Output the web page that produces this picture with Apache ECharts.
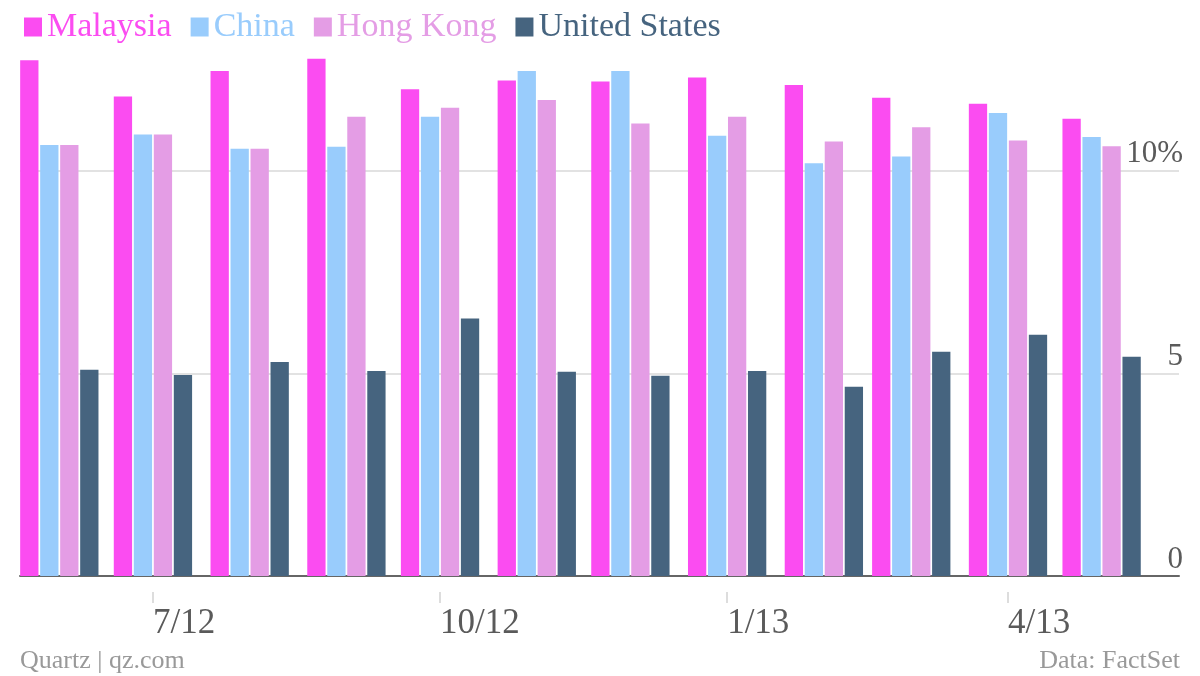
<!DOCTYPE html>
<html>
<head>
<meta charset="utf-8">
<script src="https://cdn.jsdelivr.net/npm/echarts@6/dist/echarts.min.js"></script>
<style>
  html, body { margin: 0; padding: 0; background: #fff; }
  #chart { width: 1200px; height: 676px; }
</style>
</head>
<body>
<div id="chart"></div>
<script>
// ---- data ----
var months = ['2012-06-01','2012-07-01','2012-08-01','2012-09-01','2012-10-01','2012-11-01',
              '2012-12-01','2013-01-01','2013-02-01','2013-03-01','2013-04-01','2013-05-01'];
var seriesNames = ['Malaysia', 'China', 'Hong Kong', 'United States'];
var malaysia = [12.72, 11.83, 12.46, 12.76, 12.01, 12.22, 12.20, 12.30, 12.11, 11.80, 11.65, 11.28];
var china    = [10.63, 10.89, 10.54, 10.59, 11.33, 12.46, 12.46, 10.86, 10.18, 10.35, 11.42, 10.83];
var hongKong = [10.63, 10.89, 10.54, 11.33, 11.55, 11.74, 11.16, 11.33, 10.72, 11.07, 10.74, 10.60];
var unitedStates = [5.09, 4.96, 5.28, 5.06, 6.35, 5.04, 4.94, 5.06, 4.67, 5.53, 5.95, 5.41];
var xTickDates  = ['2012-07-01', '2012-10-01', '2013-01-01', '2013-04-01'];
var xTickLabels = ['7/12', '10/12', '1/13', '4/13'];
var yTickValues = [0, 5, 10];
var yTickLabels = ['0', '5', '10%'];
var xRange = ['2012-05-19', '2013-05-26'];

// ---- styles ----
var colors = ['#fb4cf1', '#99ccfc', '#e49de5', '#46647f'];
var FONT = 'Liberation Serif';

// day number (days since epoch, UTC) for a date string
function dayNum(s) { return Date.parse(s + 'T00:00:00Z') / 86400000; }

var values = [malaysia, china, hongKong, unitedStates];
var tickDays = xTickDates.map(dayNum);
var xMin = dayNum(xRange[0]) + 0.4;
var xMax = dayNum(xRange[1]) - 0.2;

var chart = echarts.init(document.getElementById('chart'), null, { renderer: 'canvas' });

var series = seriesNames.map(function (name, k) {
  return {
    name: name,
    type: 'bar',
    xAxisIndex: 0,
    yAxisIndex: 0,
    barWidth: 18.3,
    barGap: '9.3%',
    itemStyle: { color: colors[k] },
    emphasis: { disabled: true },
    data: months.map(function (m, i) { return [dayNum(m), values[k][i]]; })
  };
});

var option = {
  animation: false,
  backgroundColor: '#ffffff',
  legend: {
    left: 19,
    top: 5,
    icon: 'rect',
    itemWidth: 18,
    itemHeight: 19,
    itemGap: 19,
    textStyle: { fontFamily: FONT, fontSize: 34 },
    data: seriesNames.map(function (n, k) {
      return { name: n, textStyle: { color: colors[k] } };
    })
  },
  grid: { left: 20, right: 21, top: 49, bottom: 100, containLabel: false },
  xAxis: [
    {
      type: 'value',
      min: xMin,
      max: xMax,
      position: 'bottom',
      offset: 16,
      axisLine: { show: false, onZero: false },
      splitLine: { show: false },
      axisTick: {
        show: true,
        length: 11,
        customValues: tickDays,
        lineStyle: { color: '#dddddd', width: 2 }
      },
      axisLabel: {
        show: true,
        customValues: tickDays,
        hideOverlap: false,
        align: 'left',
        margin: 14,
        fontFamily: FONT,
        fontSize: 35,
        color: '#5a5a5a',
        formatter: function (v) {
          for (var i = 0; i < tickDays.length; i++) {
            if (Math.abs(tickDays[i] - v) < 0.5) return xTickLabels[i];
          }
          return '';
        }
      }
    },
    {
      type: 'value',
      min: xMin,
      max: xMax,
      position: 'bottom',
      axisLine: { show: true, onZero: false, lineStyle: { color: '#666666', width: 2 } },
      axisTick: { show: false },
      axisLabel: { show: false },
      splitLine: { show: false }
    }
  ],
  yAxis: {
    type: 'value',
    position: 'right',
    min: 0,
    max: 13,
    interval: 5,
    axisLine: { show: false },
    axisTick: { show: false },
    splitLine: {
      show: true,
      showMaxLine: false,
      lineStyle: { color: '#e2e2e2', width: 2 }
    },
    axisLabel: {
      inside: true,
      margin: -4,
      verticalAlign: 'bottom',
      padding: [0, 0, 1, 0],
      fontFamily: FONT,
      fontSize: 31,
      color: '#5a5a5a',
      formatter: function (v) {
        var i = yTickValues.indexOf(v);
        return i >= 0 ? yTickLabels[i] : '';
      }
    }
  },
  graphic: [
    {
      type: 'text',
      left: 20,
      top: 648,
      style: { text: 'Quartz | qz.com', fontFamily: FONT, fontSize: 26, fill: '#999999' }
    },
    {
      type: 'text',
      right: 20,
      top: 648,
      style: { text: 'Data: FactSet', fontFamily: FONT, fontSize: 26, fill: '#999999' }
    }
  ],
  series: series
};

chart.setOption(option);
</script>
</body>
</html>
